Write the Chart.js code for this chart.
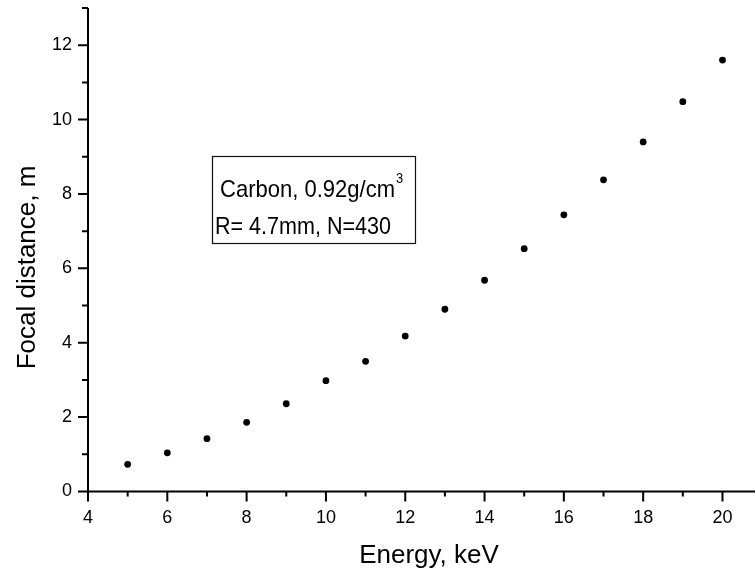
<!DOCTYPE html>
<html>
<head>
<meta charset="utf-8">
<script src="https://cdn.jsdelivr.net/npm/chart.js@4"></script>
<style>
  html, body { margin: 0; padding: 0; background: #fff; }
  #wrap { width: 755px; height: 569px; position: relative; }
</style>
</head>
<body>
<div id="wrap"><canvas id="c" width="755" height="569"></canvas></div>
<script>
// ---- data ----
const energies = [5, 6, 7, 8, 9, 10, 11, 12, 13, 14, 15, 16, 17, 18, 19, 20];
const focalDistance = [0.73, 1.04, 1.42, 1.86, 2.36, 2.98, 3.50, 4.18, 4.90, 5.68, 6.53, 7.44, 8.38, 9.40, 10.48, 11.60];
const xTitle = 'Energy, keV';
const yTitle = 'Focal distance, m';
const noteLine1 = 'Carbon, 0.92g/cm';
const noteSup = '3';
const noteLine2 = 'R= 4.7mm, N=430';

const FONT = "'Liberation Sans', Arial, sans-serif";

const overlay = {
  id: 'overlay',
  afterDraw(chart) {
    const { ctx, chartArea: a, scales: { x, y } } = chart;
    ctx.save();
    ctx.strokeStyle = '#000';
    ctx.lineWidth = 2;
    ctx.lineCap = 'butt';
    ctx.beginPath();
    ctx.moveTo(a.left, a.top);
    ctx.lineTo(a.left, a.bottom + 1);
    ctx.moveTo(a.left - 1, a.bottom);
    ctx.lineTo(a.right, a.bottom);
    x.ticks.forEach(t => {
      const v = t.value;
      if (!Number.isInteger(v)) return;
      const px = x.getPixelForValue(v);
      const len = v % 2 === 0 ? 10 : 5;
      ctx.moveTo(px, a.bottom);
      ctx.lineTo(px, a.bottom + len);
    });
    y.ticks.forEach(t => {
      const v = t.value;
      if (!Number.isInteger(v)) return;
      const py = y.getPixelForValue(v);
      const len = v % 2 === 0 ? 10 : 6;
      ctx.moveTo(a.left, py);
      ctx.lineTo(a.left - len, py);
    });
    ctx.stroke();

    // axis titles
    ctx.fillStyle = '#000';
    ctx.font = '26px ' + FONT;
    ctx.textAlign = 'center';
    ctx.textBaseline = 'alphabetic';
    ctx.fillText(xTitle, 429, 563);
    ctx.save();
    ctx.translate(35, 267.5);
    ctx.rotate(-Math.PI / 2);
    ctx.fillText(yTitle, 0, 0);
    ctx.restore();

    // annotation box
    ctx.lineWidth = 1.2;
    ctx.strokeStyle = '#111';
    ctx.strokeRect(212.5, 156.5, 203, 87);
    ctx.textAlign = 'left';
    ctx.font = '24px ' + FONT;
    const w1 = ctx.measureText(noteLine1).width;
    const s1 = 175 / w1;
    ctx.save();
    ctx.translate(220, 196.5);
    ctx.scale(s1, 1);
    ctx.fillText(noteLine1, 0, 0);
    ctx.font = '14px ' + FONT;
    ctx.fillText(noteSup, w1 + 1, -13.5);
    ctx.restore();
    ctx.font = '24px ' + FONT;
    const w2 = ctx.measureText(noteLine2).width;
    const s2 = 176 / w2;
    ctx.save();
    ctx.translate(215, 234);
    ctx.scale(s2, 1);
    ctx.fillText(noteLine2, 0, 0);
    ctx.restore();
    ctx.restore();
  }
};

new Chart(document.getElementById('c'), {
  type: 'scatter',
  data: {
    datasets: [{
      data: energies.map((e, i) => ({ x: e, y: focalDistance[i] })),
      backgroundColor: '#000',
      borderColor: '#000',
      borderWidth: 0,
      pointRadius: 3.4,
      pointHoverRadius: 3.4,
      showLine: false
    }]
  },
  options: {
    responsive: false,
    animation: false,
    events: [],
    layout: { autoPadding: false, padding: { top: 8, right: 0, left: 0, bottom: 0 } },
    plugins: { legend: { display: false }, tooltip: { enabled: false } },
    scales: {
      x: {
        type: 'linear',
        min: 4,
        max: 20.82,
        afterFit(s) { s.height = 77.5; s.paddingLeft = 0; s.paddingRight = 0; },
        border: { display: false },
        grid: { display: true, drawOnChartArea: false, drawTicks: true, tickLength: 10, color: 'rgba(0,0,0,0)' },
        ticks: {
          stepSize: 1,
          includeBounds: false,
          autoSkip: false,
          maxRotation: 0,
          padding: 6,
          color: '#000',
          font: { family: FONT, size: 18 },
          callback: v => (v % 2 === 0 ? String(v) : '')
        }
      },
      y: {
        type: 'linear',
        min: 0,
        max: 13,
        afterFit(s) { s.width = 88; s.paddingTop = 0; s.paddingBottom = 0; },
        border: { display: false },
        grid: { display: true, drawOnChartArea: false, drawTicks: true, tickLength: 10, color: 'rgba(0,0,0,0)' },
        ticks: {
          stepSize: 1,
          includeBounds: false,
          autoSkip: false,
          padding: 6,
          color: '#000',
          font: { family: FONT, size: 18 },
          callback: v => (v % 2 === 0 ? String(v) : '')
        }
      }
    }
  },
  plugins: [overlay]
});
</script>
</body>
</html>
